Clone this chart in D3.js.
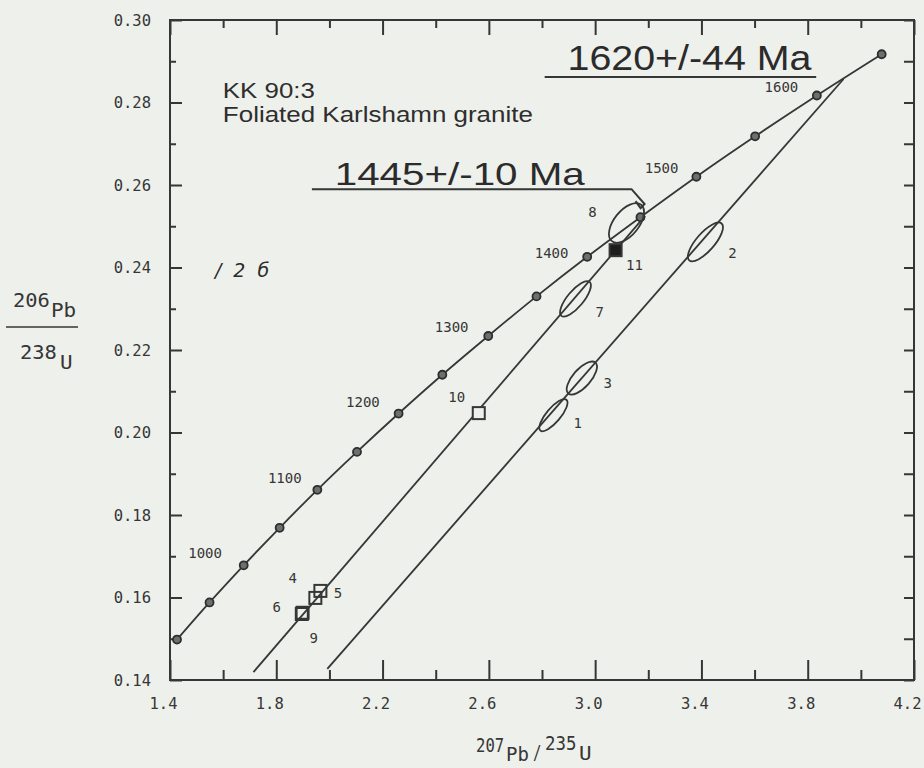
<!DOCTYPE html>
<html><head><meta charset="utf-8">
<script src="https://cdn.jsdelivr.net/npm/d3@7"></script>
<style>
html,body{margin:0;padding:0;background:#eef0eb;}
svg{display:block;}
</style></head><body>
<svg id="chart" width="924" height="768"></svg>
<script>
// ---------------- data ----------------
const concordiaAges = [900,950,1000,1050,1100,1150,1200,1250,1300,1350,1400,1450,1500,1550,1600,1650];
const concordiaX = [1.4264,1.5488,1.6774,1.8126,1.9545,2.1037,2.2603,2.4249,2.5977,2.7793,2.9701,3.1705,3.3810,3.6021,3.8344,4.0783];
const concordiaY = [0.1498,0.1588,0.1678,0.1769,0.1861,0.1953,0.2046,0.2140,0.2234,0.2330,0.2426,0.2522,0.2620,0.2718,0.2817,0.2917];

const ageLabels = ["1000","1100","1200","1300","1400","1500","1600"];
const ageLabelX = [1.532,1.832,2.126,2.460,2.836,3.250,3.701];
const ageLabelY = [0.1708,0.1890,0.2074,0.2256,0.2435,0.2641,0.2838];

// discordia chords: lower end -> upper intercept
const discordiaX0 = [1.714, 1.992];
const discordiaY0 = [0.1419, 0.1427];
const discordiaX1 = [3.188, 3.935];
const discordiaY1 = [0.2525, 0.2857];

// error ellipses (half extents in data units, correlation)
const ellipseIds = ["1","3","2","7","8"];
const ellipseX   = [2.843, 2.950, 3.415, 2.926, 3.118];
const ellipseY   = [0.2042, 0.2132, 0.2462, 0.2324, 0.2508];
const ellipseSx  = [0.053, 0.057, 0.066, 0.058, 0.066];
const ellipseSy  = [0.0039, 0.0040, 0.0047, 0.0043, 0.0048];
const ellipseRho = [0.78, 0.68, 0.76, 0.76, 0.55];

// square analyses
const squareIds    = ["4","5","6","9","10","11"];
const squareX      = [1.947, 1.966, 1.896, 1.899, 2.562, 3.077];
const squareY      = [0.1599, 0.1616, 0.1560, 0.1563, 0.2047, 0.2442];
const squareFilled = [false, false, false, false, false, true];

// analysis number labels
const pointLabels = ["1","2","3","4","5","6","7","8","9","10","11"];
const pointLabelX = [2.934, 3.517, 3.047, 1.862, 2.032, 1.802, 3.017, 2.990, 1.941, 2.479, 3.148];
const pointLabelY = [0.2023, 0.2435, 0.2120, 0.1647, 0.1611, 0.1577, 0.2292, 0.2535, 0.1502, 0.2086, 0.2406];

// ticks
const xMajorTicks = [1.4,1.8,2.2,2.6,3.0,3.4,3.8,4.2];
const xTickLabels = ["1.4","1.8","2.2","2.6","3.0","3.4","3.8","4.2"];
const xMinorTicks = [1.6,2.0,2.4,2.8,3.2,3.6,4.0];
const yMajorTicks = [0.14,0.16,0.18,0.20,0.22,0.24,0.26,0.28,0.30];
const yTickLabels = ["0.14","0.16","0.18","0.20","0.22","0.24","0.26","0.28","0.30"];
const yMinorTicks = [0.15,0.17,0.19,0.21,0.23,0.25,0.27,0.29];

// annotations (data coordinates)
const titleLines = ["KK 90:3", "Foliated Karlshamn granite"];
const titleX = [1.599, 1.599];
const titleY = [0.2811, 0.2753];
const ageResults = ["1620+/-44 Ma", "1445+/-10 Ma"];
const ageResultX = [2.896, 2.020];
const ageResultY = [0.2879, 0.2600];
const underline1620X = [2.810, 3.832];
const underline1620Y = [0.2862, 0.2862];
const leader1445X = [1.934, 3.137, 3.186, 3.171, 3.152];
const leader1445Y = [0.2590, 0.2590, 0.2554, 0.2544, 0.2561];
const noteText = "/ 2 б";
const noteX = 1.569, noteY = 0.2377;

// ---------------- drawing ----------------
const ink = "#363636";
const svg = d3.select("#chart");
const x = d3.scaleLinear().domain([1.4, 4.2]).range([170, 914]);
const y = d3.scaleLinear().domain([0.14, 0.30]).range([680, 20]);
const mono = "'DejaVu Sans Mono', monospace";
const sans = "'Liberation Sans', Arial, sans-serif";

function styleAxis(g){
  g.select(".domain").remove();
  g.selectAll("line").attr("stroke", ink).attr("stroke-width", 2);
  g.selectAll("text").attr("fill", ink).attr("font-family", mono).attr("font-size", 15.5);
}

// bottom
svg.append("g").attr("transform", "translate(0,680)")
  .call(d3.axisBottom(x).tickValues(xMajorTicks).tickSize(-20).tickPadding(18)
        .tickFormat((d,i)=>xTickLabels[i]))
  .call(styleAxis).call(g=>g.selectAll("text").attr("x", -7));
svg.append("g").attr("transform", "translate(0,680)")
  .call(d3.axisBottom(x).tickValues(xMinorTicks).tickSize(-10).tickFormat(""))
  .call(styleAxis);
// top
svg.append("g").attr("transform", "translate(0,20)")
  .call(d3.axisTop(x).tickValues(xMajorTicks).tickSize(-15).tickFormat(""))
  .call(styleAxis);
svg.append("g").attr("transform", "translate(0,20)")
  .call(d3.axisTop(x).tickValues(xMinorTicks).tickSize(-8).tickFormat(""))
  .call(styleAxis);
// left
svg.append("g").attr("transform", "translate(170,0)")
  .call(d3.axisLeft(y).tickValues(yMajorTicks).tickSize(-12).tickPadding(19)
        .tickFormat((d,i)=>yTickLabels[i]))
  .call(styleAxis).call(g=>g.selectAll("text").attr("dy", "0.35em"));
svg.append("g").attr("transform", "translate(170,0)")
  .call(d3.axisLeft(y).tickValues(yMinorTicks).tickSize(-6).tickFormat(""))
  .call(styleAxis);
// right
svg.append("g").attr("transform", "translate(914,0)")
  .call(d3.axisRight(y).tickValues(yMajorTicks.concat(yMinorTicks)).tickSize(-10).tickFormat(""))
  .call(styleAxis);
// frame
svg.append("rect").attr("x", x(1.4)).attr("y", y(0.30))
  .attr("width", x(4.2)-x(1.4)).attr("height", y(0.14)-y(0.30))
  .attr("fill", "none").attr("stroke", ink).attr("stroke-width", 2);

// axis titles (horizontally squeezed plotter-style lettering)
function t(txt, px, py, size, sx){
  return svg.append("text").attr("transform", `translate(${px},${py}) scale(${sx},1)`).text(txt)
    .attr("font-family", mono).attr("font-size", size).attr("fill", ink);
}
t("206", 13, 307, 20, 1.02);
t("Pb", 51, 317, 19, 1.1);
svg.append("line").attr("x1", 6).attr("x2", 78).attr("y1", 327).attr("y2", 327)
  .attr("stroke", ink).attr("stroke-width", 1.6);
t("238", 20, 359, 20, 1.02);
t("U", 60, 369, 19, 1.1);

t("207", 476, 752, 20, 0.78);
t("Pb", 506, 761, 19, 1.0);
t("/", 533, 759, 20, 0.7);
t("235", 545, 750, 20, 0.87);
t("U", 579, 760, 19, 1.1);

// concordia
const idx = d3.range(concordiaAges.length);
svg.append("path")
  .attr("d", d3.line().x(i=>x(concordiaX[i])).y(i=>y(concordiaY[i])).curve(d3.curveCatmullRom)(idx))
  .attr("fill", "none").attr("stroke", ink).attr("stroke-width", 1.8);

// discordia chords
d3.range(discordiaX0.length).forEach(i=>{
  svg.append("line")
    .attr("x1", x(discordiaX0[i])).attr("y1", y(discordiaY0[i]))
    .attr("x2", x(discordiaX1[i])).attr("y2", y(discordiaY1[i]))
    .attr("stroke", ink).attr("stroke-width", 1.8);
});

// concordia age markers
svg.selectAll("circle.age").data(idx).join("circle").attr("class","age")
  .attr("cx", i=>x(concordiaX[i])).attr("cy", i=>y(concordiaY[i])).attr("r", 4)
  .attr("fill", "#6e6e6e").attr("stroke", "#2e2e2e").attr("stroke-width", 1.8);

// age labels
ageLabels.forEach((s,i)=>{
  svg.append("text").attr("x", x(ageLabelX[i])).attr("y", y(ageLabelY[i]))
    .attr("text-anchor","middle").attr("dominant-baseline","central")
    .attr("font-family", mono).attr("font-size", 14).attr("fill", ink).text(s);
});

// ellipses
const kx = x(2) - x(1), ky = y(0) - y(1);
ellipseIds.forEach((id,i)=>{
  const sx = ellipseSx[i]*Math.abs(kx), sy = ellipseSy[i]*Math.abs(ky);
  const a = sx*sx, c = sy*sy, b = -ellipseRho[i]*sx*sy;
  const m = (a+c)/2, d = Math.sqrt(((a-c)/2)**2 + b*b);
  const l1 = m + d, l2 = Math.max(m - d, 1);
  const ang = 0.5*Math.atan2(2*b, a-c)*180/Math.PI;
  svg.append("ellipse")
    .attr("transform", `translate(${x(ellipseX[i])},${y(ellipseY[i])}) rotate(${ang})`)
    .attr("rx", Math.sqrt(l1)).attr("ry", Math.sqrt(l2))
    .attr("fill", "none").attr("stroke", ink).attr("stroke-width", 1.8);
});

// squares
squareIds.forEach((id,i)=>{
  const s = 12;
  svg.append("rect").attr("x", x(squareX[i]) - s/2).attr("y", y(squareY[i]) - s/2)
    .attr("width", s).attr("height", s)
    .attr("fill", squareFilled[i] ? "#1e1e1e" : (id==="10" ? "#eef0eb" : "none"))
    .attr("stroke", ink).attr("stroke-width", 2);
});

// point labels
pointLabels.forEach((s,i)=>{
  svg.append("text").attr("x", x(pointLabelX[i])).attr("y", y(pointLabelY[i]))
    .attr("text-anchor","middle").attr("dominant-baseline","central")
    .attr("font-family", mono).attr("font-size", 14).attr("fill", ink).text(s);
});

// title
svg.append("text").attr("x", x(titleX[0])).attr("y", y(titleY[0])).text(titleLines[0])
  .attr("font-family", sans).attr("font-size", 22).attr("fill", "#2e2e2e")
  .attr("textLength", 92).attr("lengthAdjust", "spacingAndGlyphs");
svg.append("text").attr("x", x(titleX[1])).attr("y", y(titleY[1])).text(titleLines[1])
  .attr("font-family", sans).attr("font-size", 22).attr("fill", "#2e2e2e")
  .attr("textLength", 310).attr("lengthAdjust", "spacingAndGlyphs");

// age results
svg.append("text").attr("x", x(ageResultX[0])).attr("y", y(ageResultY[0])).text(ageResults[0])
  .attr("font-family", sans).attr("font-size", 35).attr("fill", "#2b2b2b")
  .attr("textLength", 244).attr("lengthAdjust", "spacingAndGlyphs");
svg.append("text").attr("x", x(ageResultX[1])).attr("y", y(ageResultY[1])).text(ageResults[1])
  .attr("font-family", sans).attr("font-size", 32).attr("fill", "#2b2b2b")
  .attr("textLength", 250).attr("lengthAdjust", "spacingAndGlyphs");
svg.append("line")
  .attr("x1", x(underline1620X[0])).attr("y1", y(underline1620Y[0]))
  .attr("x2", x(underline1620X[1])).attr("y2", y(underline1620Y[1]))
  .attr("stroke", ink).attr("stroke-width", 2);
svg.append("path")
  .attr("d", d3.line()(leader1445X.map((v,i)=>[x(v), y(leader1445Y[i])])))
  .attr("fill", "none").attr("stroke", ink).attr("stroke-width", 2);

// handwritten note
svg.append("text").attr("x", x(noteX)).attr("y", y(noteY)).text(noteText)
  .attr("font-family", "'DejaVu Sans', sans-serif").attr("font-style", "italic")
  .attr("font-size", 19).attr("fill", "#2b2b2b")
  .style("white-space", "pre").attr("letter-spacing", 3);
</script>
</body></html>
